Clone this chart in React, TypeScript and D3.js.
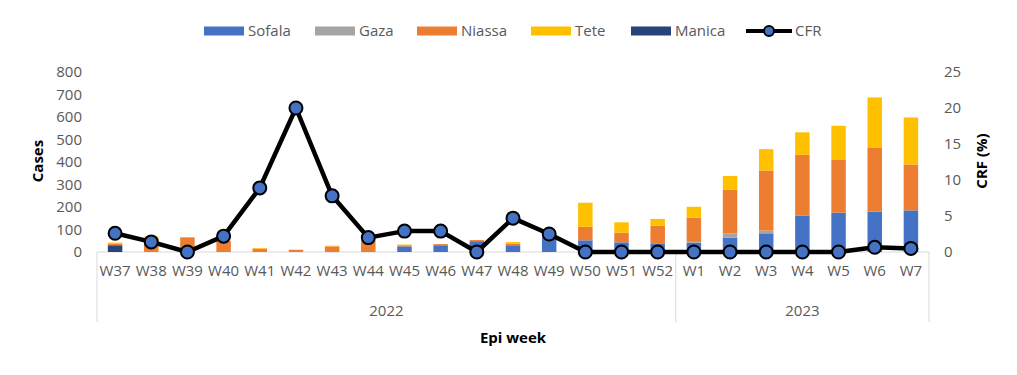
import React from "react";
import * as d3 from "d3";

const weeks = ["W37","W38","W39","W40","W41","W42","W43","W44","W45","W46","W47","W48","W49","W50","W51","W52","W1","W2","W3","W4","W5","W6","W7"];
const yearGroups = [
  { label: "2022", count: 16 },
  { label: "2023", count: 7 },
];
const sofala = [0,0,0,0,0,0,0,0,25,30,48,30,62,52,43,36,41,64,83,161,175,179,185];
const gaza   = [0,0,0,0,0,0,0,0,0,0,0,0,0,0,0,0,4,19,12,0,0,0,0];
const niassa = [7,60,65,50,15,10,25,55,5,5,5,8,5,60,43,81,107,193,267,271,234,286,204];
const tete   = [5,8,0,0,3,0,3,0,3,0,0,6,0,107,46,30,49,62,95,100,152,222,209];
const manica = [30,0,0,0,0,0,0,0,0,0,0,0,0,0,0,0,0,0,0,0,0,0,0];
const cfr    = [2.6,1.4,0,2.2,8.9,20,7.8,2.0,2.9,2.9,0,4.7,2.5,0,0,0,0,0,0,0,0,0.65,0.5];
const leftTicks = [0,100,200,300,400,500,600,700,800];
const rightTicks = [0,5,10,15,20,25];

const seriesDefs = [
  { name: "Sofala", color: "#4472C4", values: sofala },
  { name: "Gaza", color: "#A5A5A5", values: gaza },
  { name: "Niassa", color: "#ED7D31", values: niassa },
  { name: "Tete", color: "#FFC000", values: tete },
  { name: "Manica", color: "#264478", values: manica },
];
// drawing stack order (bottom to top)
const stackOrder = ["Manica", "Sofala", "Gaza", "Niassa", "Tete"];

const FONT = "'Open Sans', 'Liberation Sans', sans-serif";
const TICK_COLOR = "#595959";

export default function App() {
  const W = 1017, H = 375;
  const left = 97, right = 929, top = 72, base = 252;

  const x = d3.scaleBand<string>().domain(weeks).range([left, right]).paddingInner(0.6).paddingOuter(0.3);
  const yL = d3.scaleLinear().domain([0, 800]).range([base, top]);
  const yR = d3.scaleLinear().domain([0, 25]).range([base, top]);

  const rows = weeks.map((w, i) => {
    const r: any = { week: w };
    seriesDefs.forEach(s => (r[s.name] = s.values[i]));
    return r;
  });
  const stacked = d3.stack().keys(stackOrder)(rows);
  const colorOf = (n: string) => seriesDefs.find(s => s.name === n)!.color;

  const step = (right - left) / weeks.length;
  const cx = (w: string) => (x(w) as number) + x.bandwidth() / 2;

  const line = d3.line<number>().x((_, i) => cx(weeks[i])).y(d => yR(d));

  const legendItems = [
    { name: "Sofala", x: 204 },
    { name: "Gaza", x: 315 },
    { name: "Niassa", x: 417 },
    { name: "Tete", x: 531 },
    { name: "Manica", x: 631 },
  ];
  const legendY = 31;

  let acc = 0;
  const groups = yearGroups.map(g => {
    const start = acc;
    acc += g.count;
    return { ...g, x0: left + start * step, x1: left + acc * step };
  });

  return (
    <svg width={W} height={H} style={{ position: "absolute", left: 0, top: 0, background: "#fff" }} fontFamily={FONT}>
      <rect x={0} y={0} width={W} height={H} fill="#fff" />
      <line x1={left} x2={right} y1={base} y2={base} stroke="#D9D9D9" strokeWidth={1} />
      {[left, ...groups.map(g => g.x1)].map((xx, i) => (
        <line key={i} x1={xx} x2={xx} y1={base} y2={322} stroke="#D9D9D9" strokeWidth={1} />
      ))}
      {stacked.map(layer => (
        <g key={layer.key} fill={colorOf(layer.key)}>
          {layer.map((d, i) => {
            const h = yL(d[0]) - yL(d[1]);
            if (h <= 0) return null;
            return <rect key={i} x={x(weeks[i])} y={yL(d[1])} width={x.bandwidth()} height={h} />;
          })}
        </g>
      ))}
      <path d={line(cfr) || ""} fill="none" stroke="#000" strokeWidth={4.5} strokeLinejoin="round" />
      {cfr.map((v, i) => (
        <circle key={i} cx={cx(weeks[i])} cy={yR(v)} r={6.5} fill="#4472C4" stroke="#000" strokeWidth={2} />
      ))}
      {leftTicks.map(t => (
        <text key={t} x={82} y={yL(t)} dy="0.35em" textAnchor="end" fontSize={15} fill={TICK_COLOR}>{t}</text>
      ))}
      {rightTicks.map(t => (
        <text key={t} x={944} y={yR(t)} dy="0.35em" textAnchor="start" fontSize={15} fill={TICK_COLOR}>{t}</text>
      ))}
      {weeks.map(w => (
        <text key={w} x={cx(w)} y={271} dy="0.35em" textAnchor="middle" fontSize={15} fill={TICK_COLOR}>{w}</text>
      ))}
      {groups.map(g => (
        <text key={g.label} x={(g.x0 + g.x1) / 2} y={311} dy="0.35em" textAnchor="middle" fontSize={15} fill={TICK_COLOR}>{g.label}</text>
      ))}
      <text transform="translate(38,161) rotate(-90)" textAnchor="middle" dy="0.35em" fontSize={15} fontWeight="bold" fill="#000">Cases</text>
      <text transform="translate(982,161) rotate(-90)" textAnchor="middle" dy="0.35em" fontSize={15} fontWeight="bold" fill="#000">CRF (%)</text>
      <text x={513} y={338} dy="0.35em" textAnchor="middle" fontSize={15} fontWeight="bold" fill="#000">Epi week</text>
      {legendItems.map(li => (
        <g key={li.name}>
          <rect x={li.x} y={legendY - 4.5} width={40} height={9} fill={colorOf(li.name)} />
          <text x={li.x + 44} y={legendY} dy="0.35em" fontSize={15} fill={TICK_COLOR}>{li.name}</text>
        </g>
      ))}
      <g>
        <line x1={746} x2={792} y1={legendY} y2={legendY} stroke="#000" strokeWidth={4} />
        <circle cx={769} cy={legendY} r={5} fill="#4472C4" stroke="#000" strokeWidth={2} />
        <text x={795} y={legendY} dy="0.35em" fontSize={15} fill={TICK_COLOR}>CFR</text>
      </g>
    </svg>
  );
}
